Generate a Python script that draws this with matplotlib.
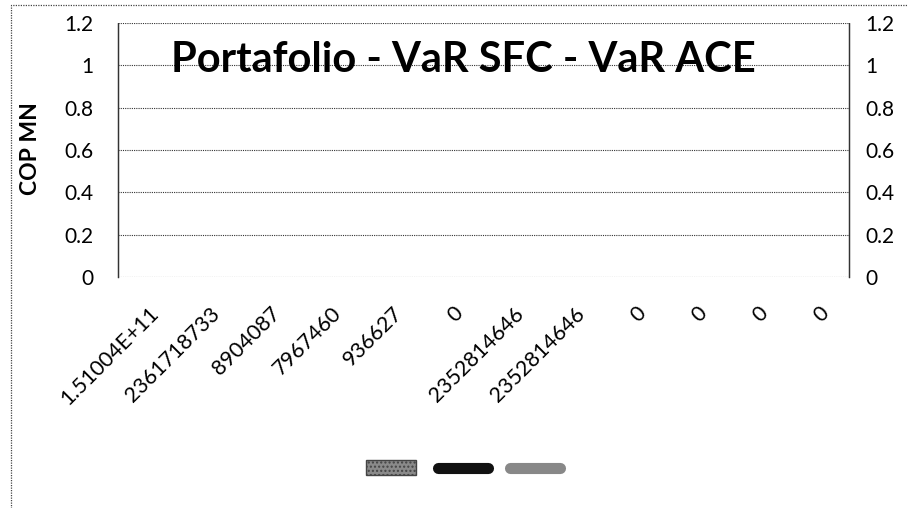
import numpy as np
import matplotlib
matplotlib.use("Agg")
from matplotlib import pyplot as plt
from matplotlib.patches import Patch, Rectangle
from matplotlib.lines import Line2D

plt.rcParams['font.family'] = ['Lato', 'DejaVu Sans']

# categories shown on the x axis (as printed in the chart)
categories = ['1.51004E+11', '2361718733', '8904087', '7967460', '936627', '0',
              '2352814646', '2352814646', '0', '0', '0', '0']
# series have no visible values in the chart
portafolio = [np.nan] * len(categories)
var_sfc = [np.nan] * len(categories)
var_ace = [np.nan] * len(categories)
yticks = [0, 0.2, 0.4, 0.6, 0.8, 1, 1.2]
ytick_labels = ['0', '0.2', '0.4', '0.6', '0.8', '1', '1.2']

fig = plt.figure(figsize=(9.08, 5.08), dpi=100)
ax = fig.add_axes([118 / 908, 1 - 277 / 508, 731 / 908, 254 / 508])

x = np.arange(len(categories))
ax.bar(x, portafolio, color='#999999', label='')
ax.plot(x, var_sfc, color='black', lw=2, label='')
ax.plot(x, var_ace, color='#777777', lw=2, label='')

ax.set_xlim(-0.5, len(categories) - 0.5)
ax.set_ylim(0, 1.2)
ax.set_yticks(yticks)
ax.set_yticklabels(ytick_labels, fontsize=15)
ax.set_xticks(x)
ax.set_xticklabels(categories, rotation=45, ha='right', rotation_mode='anchor', fontsize=15.5)
ax.tick_params(axis='y', length=0, pad=18)
ax.tick_params(axis='x', length=0, pad=19)

ax2 = ax.twinx()
ax2.set_ylim(0, 1.2)
ax2.set_yticks(yticks)
ax2.set_yticklabels(ytick_labels, fontsize=15)
ax2.tick_params(axis='y', length=0, pad=12)

ax.grid(axis='y', color='#333333', lw=0.8, ls=(0, (1, 1)))
for a in (ax, ax2):
    for s in ['top', 'bottom']:
        a.spines[s].set_visible(False)
    for s in ['left', 'right']:
        a.spines[s].set_linestyle((0, (1, 1)))
        a.spines[s].set_linewidth(0.9)
        a.spines[s].set_color('#333333')

ax.set_ylabel('COP MN', fontsize=16.5, fontweight='bold')
ax.yaxis.set_label_coords(-0.106, 0.505)

fig.text(463 / 908, 1 - 60 / 508, 'Portafolio - VaR SFC - VaR ACE',
         ha='center', va='center', fontsize=30, fontweight='bold')

# chart area border
fig.patches.append(Rectangle((11 / 908, -0.05), 1.0, 1 - 5 / 508 + 0.05,
                             transform=fig.transFigure, fill=False,
                             ec='#444444', lw=0.9, ls=(0, (1, 1))))

handles = [Patch(facecolor='#8a8a8a', edgecolor='#444444', hatch='....'),
           Line2D([], [], color='#111111', lw=8, solid_capstyle='round'),
           Line2D([], [], color='#888888', lw=8, solid_capstyle='round')]
fig.legend(handles, ['', '', ''], loc='center', bbox_to_anchor=(463 / 908, 1 - 469 / 508),
           ncol=3, frameon=False, fontsize=14, handlelength=2.6, handleheight=0.8,
           handletextpad=0, columnspacing=1.1)

fig.savefig('out.png', dpi=100)
